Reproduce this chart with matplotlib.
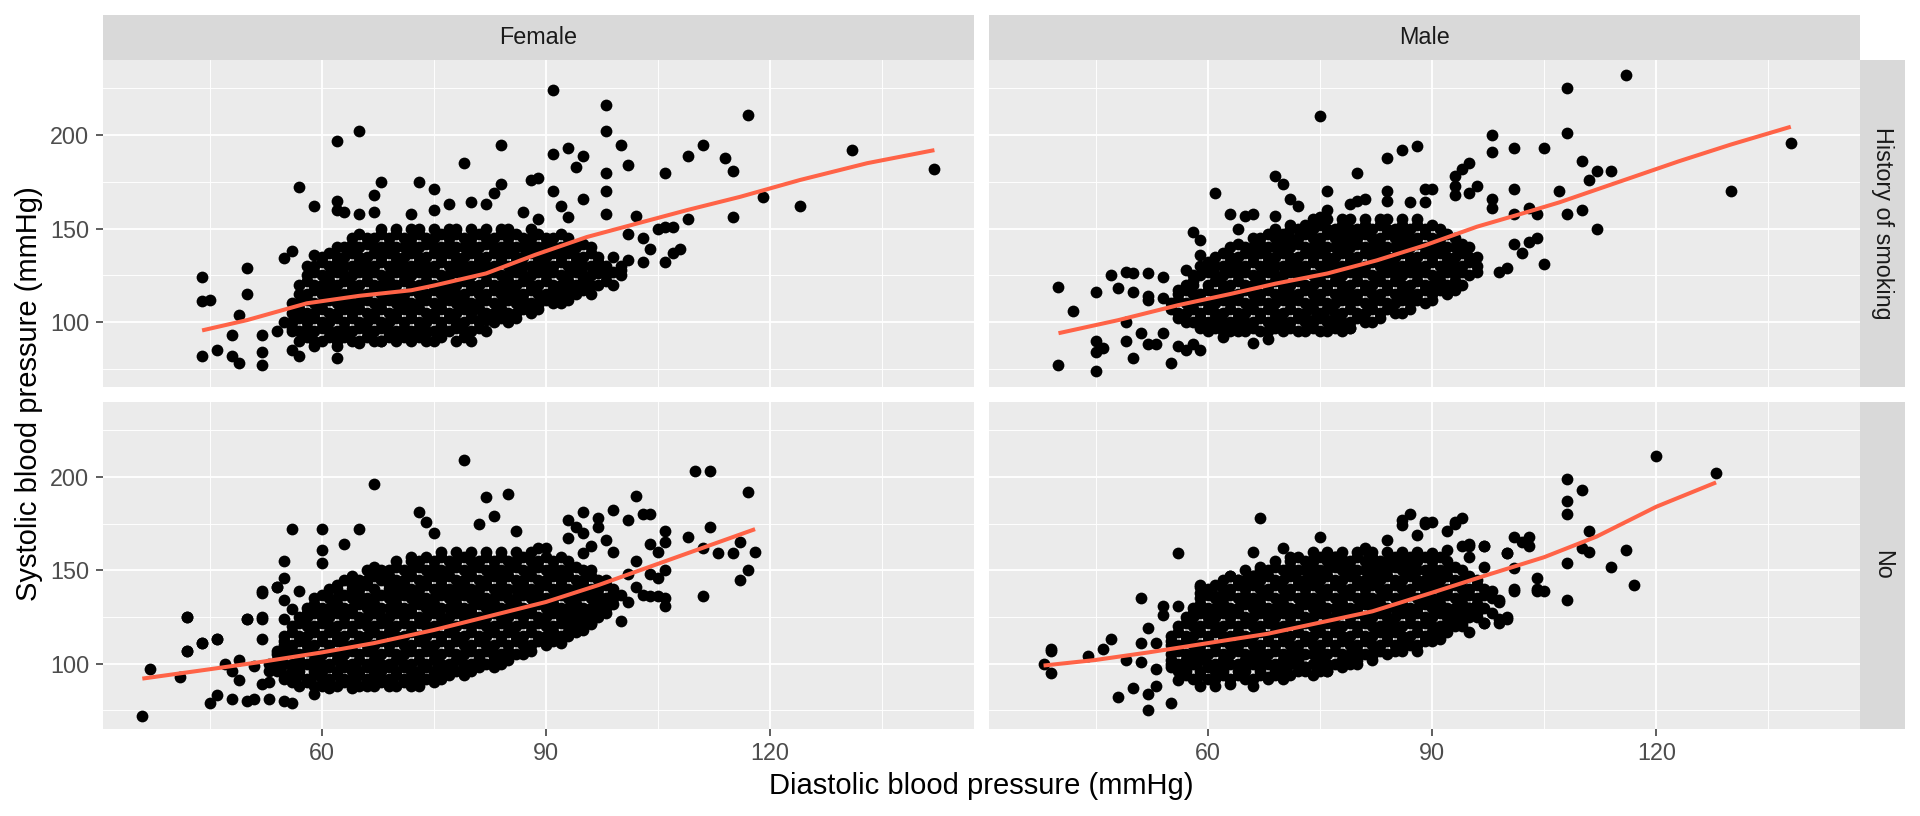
import matplotlib.pyplot as plt

plt.rcParams['font.family'] = ['Liberation Sans', 'DejaVu Sans']

# facet labels
sexes = ['Female', 'Male']
smoking = ['History of smoking', 'No']

# dense middle of each point cloud, read row by row: systolic -> diastolic values
tl_rows = {
    90: [57, 59, 60, 62, 64, 65, 67, 68, 70, 72, 74, 75, 78, 80],
    92: [58, 61, 63, 66, 69, 71, 73, 76, 79],
    95: [56, 57, 59, 61, 62, 64, 66, 67, 69, 70, 72, 74, 75, 77, 79, 80, 82],
    97: [56, 58, 60, 63, 65, 68, 71, 73, 76, 78, 81],
    100: [55, 56, 58, 60, 61, 63, 65, 66, 68, 69, 71, 73, 74, 76, 78, 79, 81, 83, 85],
    102: [57, 59, 62, 64, 67, 70, 72, 75, 77, 80, 82, 84, 86],
    105: [56, 58, 59, 61, 62, 64, 66, 67, 69, 70, 72, 74, 75, 77, 78, 80, 82, 83, 85, 86, 88],
    107: [57, 60, 63, 65, 68, 71, 73, 76, 79, 81, 84, 87, 89],
    110: [56, 57, 59, 60, 62, 64, 65, 67, 68, 70, 72, 73, 75, 76, 78, 80, 81, 83, 84, 86, 88, 89, 91, 92],
    112: [58, 61, 63, 66, 69, 71, 74, 77, 79, 82, 85, 87, 90, 93],
    115: [57, 58, 60, 62, 63, 65, 66, 68, 70, 71, 73, 74, 76, 78, 79, 81, 82, 84, 86, 87, 89, 90, 92, 94, 96],
    117: [59, 61, 64, 67, 69, 72, 75, 77, 80, 83, 85, 88, 91, 93, 95],
    120: [57, 59, 60, 62, 64, 65, 67, 68, 70, 72, 73, 75, 76, 78, 80, 81, 83, 84, 86, 88, 89, 91, 92, 94, 96, 97, 99],
    122: [58, 61, 63, 66, 69, 71, 74, 77, 79, 82, 85, 87, 90, 93, 95, 98],
    125: [58, 60, 61, 63, 64, 66, 68, 69, 71, 72, 74, 76, 77, 79, 80, 82, 84, 85, 87, 88, 90, 92, 93, 95, 96, 98, 100],
    127: [59, 62, 65, 67, 70, 73, 75, 78, 81, 83, 86, 89, 91, 94, 97, 99],
    130: [58, 59, 61, 63, 64, 66, 67, 69, 71, 72, 74, 75, 77, 79, 80, 82, 83, 85, 87, 88, 90, 91, 93, 95, 96, 98, 100],
    132: [60, 62, 65, 68, 70, 73, 76, 78, 81, 84, 86, 89, 92, 94, 97],
    135: [60, 62, 63, 65, 66, 68, 70, 71, 73, 74, 76, 78, 79, 81, 82, 84, 86, 87, 89, 90, 92, 94, 95, 97, 99],
    137: [61, 64, 67, 69, 72, 75, 77, 80, 83, 85, 88, 91, 93, 96],
    140: [62, 63, 65, 67, 68, 70, 71, 73, 75, 76, 78, 79, 81, 83, 84, 86, 87, 89, 91, 92, 94, 96],
    142: [64, 66, 69, 72, 74, 77, 80, 82, 85, 88, 90, 93, 95],
    145: [64, 66, 67, 69, 71, 72, 74, 75, 77, 79, 80, 82, 83, 85, 87, 88, 90, 91, 93],
    147: [65, 68, 70, 73, 76, 78, 81, 84, 86, 89, 92],
    150: [68, 70, 72, 73, 75, 77, 78, 80, 82, 84, 85, 88],
}
tr_rows = {
    95: [60, 62, 63, 65, 67, 68, 70, 72, 73, 75, 76, 78],
    97: [59, 61, 64, 66, 69, 71, 74, 77, 79],
    100: [57, 58, 60, 62, 63, 65, 66, 68, 70, 71, 73, 74, 76, 78, 79, 81, 82],
    102: [56, 59, 61, 64, 67, 69, 72, 75, 77, 80, 83],
    105: [56, 57, 59, 61, 62, 64, 65, 67, 69, 70, 72, 73, 75, 77, 78, 80, 81, 83, 85, 86],
    107: [55, 58, 60, 63, 66, 68, 71, 74, 76, 79, 82, 84, 87],
    110: [55, 57, 58, 60, 61, 63, 65, 66, 68, 69, 71, 73, 74, 76, 77, 79, 81, 82, 84, 85, 87, 89],
    112: [56, 59, 62, 64, 67, 70, 72, 75, 78, 80, 83, 86, 88, 90],
    115: [56, 58, 59, 61, 63, 64, 66, 67, 69, 71, 72, 74, 75, 77, 79, 80, 82, 83, 85, 87, 88, 90, 92],
    117: [57, 60, 62, 65, 68, 70, 73, 76, 78, 81, 84, 86, 89, 91, 93],
    120: [57, 58, 60, 62, 63, 65, 66, 68, 70, 71, 73, 74, 76, 78, 79, 81, 82, 84, 86, 87, 89, 90, 92, 94],
    122: [58, 61, 64, 67, 69, 72, 75, 77, 80, 83, 85, 88, 91, 93],
    125: [58, 59, 61, 62, 64, 66, 67, 69, 70, 72, 74, 75, 77, 78, 80, 82, 83, 85, 86, 88, 90, 91, 93, 95],
    127: [60, 63, 65, 68, 71, 73, 76, 79, 81, 84, 87, 89, 92, 94, 96],
    130: [59, 61, 62, 64, 65, 67, 69, 70, 72, 73, 75, 77, 78, 80, 81, 83, 85, 86, 88, 89, 91, 93, 94, 96],
    132: [60, 63, 66, 68, 71, 74, 76, 79, 82, 84, 87, 90, 92, 95],
    135: [61, 63, 64, 66, 68, 69, 71, 72, 74, 76, 77, 79, 80, 82, 84, 85, 87, 88, 90, 92, 93, 95, 96],
    137: [62, 65, 67, 70, 73, 75, 78, 81, 83, 86, 89, 91, 94],
    140: [63, 65, 66, 68, 69, 71, 73, 74, 76, 77, 79, 81, 82, 84, 85, 87, 89, 90, 92, 93, 95],
    142: [64, 67, 70, 72, 75, 78, 80, 83, 86, 88, 91, 94],
    145: [66, 67, 69, 71, 72, 74, 75, 77, 79, 80, 82, 83, 85, 87, 88, 90, 91, 93],
    147: [68, 70, 73, 76, 78, 81, 84, 86, 89, 92],
    150: [69, 71, 72, 74, 76, 77, 79, 80, 82, 84, 85, 87, 89, 91],
    152: [71, 73, 75, 78, 81, 83, 86, 88, 90],
    155: [74, 76, 78, 79, 81, 83, 84, 86, 88],
}
bl_rows = {
    88: [57, 59, 60, 62, 64, 65, 67, 69, 70, 72],
    90: [56, 58, 61, 63, 66, 68, 71, 73, 75],
    92: [55, 56, 58, 60, 61, 63, 64, 66, 68, 69, 71, 72, 74, 76],
    94: [55, 57, 59, 62, 65, 67, 70, 73, 75, 77, 79],
    96: [54, 56, 57, 59, 60, 62, 64, 65, 67, 68, 70, 72, 73, 75, 76, 78, 80],
    98: [54, 57, 59, 61, 63, 66, 69, 71, 74, 77, 79, 81, 83],
    100: [53, 55, 56, 58, 60, 61, 63, 64, 66, 68, 69, 71, 72, 74, 76, 77, 79, 80, 82, 84],
    102: [54, 57, 59, 62, 65, 67, 70, 73, 75, 78, 81, 83, 85],
    105: [54, 55, 57, 59, 60, 62, 63, 65, 67, 68, 70, 71, 73, 75, 76, 78, 79, 81, 83, 84, 86, 87],
    107: [54, 56, 58, 61, 64, 66, 69, 72, 74, 77, 80, 82, 85, 88],
    110: [55, 56, 58, 59, 61, 63, 64, 66, 67, 69, 71, 72, 74, 75, 77, 79, 80, 82, 83, 85, 87, 88, 90],
    112: [55, 57, 60, 62, 65, 68, 70, 73, 76, 78, 81, 84, 86, 89, 91],
    115: [55, 57, 58, 60, 62, 63, 65, 66, 68, 70, 71, 73, 74, 76, 78, 79, 81, 82, 84, 86, 87, 89, 90, 92, 93],
    117: [56, 59, 61, 64, 67, 69, 72, 75, 77, 80, 83, 85, 88, 91, 94],
    120: [56, 58, 59, 61, 62, 64, 66, 67, 69, 70, 72, 74, 75, 77, 78, 80, 82, 83, 85, 86, 88, 90, 91, 93, 95],
    122: [57, 60, 63, 65, 68, 71, 73, 76, 79, 81, 84, 87, 89, 92, 94, 96],
    125: [57, 58, 60, 61, 63, 65, 66, 68, 69, 71, 73, 74, 76, 77, 79, 81, 82, 84, 85, 87, 89, 90, 92, 93, 95, 97],
    127: [58, 59, 62, 64, 67, 70, 72, 75, 78, 80, 83, 86, 88, 91, 94, 96, 98],
    130: [58, 60, 61, 63, 64, 66, 68, 69, 71, 72, 74, 76, 77, 79, 80, 82, 84, 85, 87, 88, 90, 92, 93, 95, 96, 98],
    132: [59, 62, 65, 67, 70, 73, 75, 78, 81, 83, 86, 89, 91, 94, 97, 99],
    135: [59, 61, 62, 64, 66, 67, 69, 70, 72, 74, 75, 77, 78, 80, 82, 83, 85, 86, 88, 90, 91, 93, 94, 96, 98, 99],
    137: [60, 63, 65, 68, 71, 73, 76, 79, 81, 84, 87, 89, 92, 95, 97, 100],
    140: [61, 62, 64, 65, 67, 69, 70, 72, 73, 75, 77, 78, 80, 81, 83, 85, 86, 88, 89, 91, 93, 94, 96, 97, 99],
    142: [62, 64, 66, 69, 71, 74, 76, 79, 82, 84, 87, 90, 92, 95, 98],
    145: [63, 65, 66, 68, 70, 71, 73, 74, 76, 78, 79, 81, 82, 84, 86, 87, 89, 90, 92, 94, 95, 97, 98],
    147: [64, 67, 69, 72, 75, 77, 80, 83, 85, 88, 91, 93, 96],
    150: [66, 68, 69, 71, 72, 74, 76, 77, 79, 80, 82, 84, 85, 87, 88, 90, 92, 93, 95, 96],
    152: [67, 70, 73, 75, 78, 81, 83, 86, 89, 91, 94],
    155: [70, 72, 73, 75, 77, 78, 80, 81, 83, 85, 86, 88, 89, 91, 93],
    157: [72, 74, 76, 79, 82, 84, 87, 90, 92],
    160: [76, 78, 80, 82, 84, 86, 88],
}
br_rows = {
    92: [58, 60, 61, 63, 65, 66, 68, 70],
    94: [57, 59, 62, 64, 67, 69, 71, 74],
    96: [56, 57, 59, 61, 62, 64, 65, 67, 69, 70, 72, 73, 75, 76],
    98: [55, 57, 60, 62, 65, 67, 70, 73, 75, 78],
    100: [55, 56, 58, 60, 61, 63, 64, 66, 68, 69, 71, 72, 74, 76, 77, 79, 80],
    102: [55, 57, 59, 62, 65, 67, 70, 72, 75, 78, 80, 82],
    105: [55, 57, 58, 60, 62, 63, 65, 66, 68, 70, 71, 73, 74, 76, 78, 79, 81, 82, 84],
    107: [56, 59, 61, 64, 67, 69, 72, 75, 77, 80, 83, 85, 86],
    110: [55, 56, 58, 59, 61, 63, 64, 66, 67, 69, 71, 72, 74, 75, 77, 79, 80, 82, 83, 85, 87, 88],
    112: [55, 57, 60, 62, 65, 68, 70, 73, 76, 78, 81, 84, 86, 89, 90],
    115: [55, 57, 58, 60, 62, 63, 65, 66, 68, 70, 71, 73, 74, 76, 78, 79, 81, 82, 84, 86, 87, 89, 91],
    117: [56, 59, 61, 64, 67, 69, 72, 75, 77, 80, 83, 85, 88, 90, 92],
    120: [56, 58, 59, 61, 62, 64, 66, 67, 69, 70, 72, 74, 75, 77, 78, 80, 82, 83, 85, 86, 88, 90, 91, 93, 94],
    122: [57, 60, 63, 65, 68, 71, 73, 76, 79, 81, 84, 87, 89, 92, 94],
    125: [57, 58, 60, 61, 63, 65, 66, 68, 69, 71, 73, 74, 76, 77, 79, 81, 82, 84, 85, 87, 89, 90, 92, 93, 95, 96],
    127: [58, 59, 62, 64, 67, 70, 72, 75, 78, 80, 83, 86, 88, 91, 94, 96],
    130: [58, 60, 61, 63, 64, 66, 68, 69, 71, 72, 74, 76, 77, 79, 80, 82, 84, 85, 87, 88, 90, 92, 93, 95, 97],
    132: [59, 62, 65, 67, 70, 73, 75, 78, 81, 83, 86, 89, 91, 94, 96],
    135: [59, 61, 62, 64, 66, 67, 69, 70, 72, 74, 75, 77, 78, 80, 82, 83, 85, 86, 88, 90, 91, 93, 94, 96, 98],
    137: [60, 63, 65, 68, 71, 73, 76, 79, 81, 84, 87, 89, 92, 95, 97],
    140: [60, 62, 63, 65, 67, 68, 70, 71, 73, 75, 76, 78, 79, 81, 83, 84, 86, 87, 89, 91, 92, 94, 95, 97],
    142: [61, 64, 66, 69, 72, 74, 77, 80, 82, 85, 88, 90, 93, 96],
    145: [62, 64, 65, 67, 69, 70, 72, 73, 75, 77, 78, 80, 81, 83, 85, 86, 88, 89, 91, 93, 94, 96],
    147: [63, 66, 68, 71, 74, 76, 79, 82, 84, 87, 90, 92, 95],
    150: [65, 67, 68, 70, 72, 73, 75, 76, 78, 80, 81, 83, 84, 86, 88, 89, 91, 92, 94],
    152: [67, 69, 71, 74, 77, 79, 82, 85, 87, 90, 93],
    155: [69, 71, 73, 74, 76, 78, 79, 81, 83, 84, 86, 88, 90, 92],
    157: [71, 72, 75, 77, 80, 82, 85, 87, 89, 91],
    160: [74, 76, 78, 80, 82, 84, 86, 88],
}

# points outside the solid part (diastolic, systolic)
tl_extra = [
    (91, 224), (98, 216), (98, 202), (117, 211), (65, 202), (62, 197), (84, 195), (93, 193),
    (91, 190), (95, 189), (100, 195), (94, 183), (101, 184), (98, 180), (106, 180), (109, 189),
    (111, 195), (114, 188), (115, 181), (119, 167), (115, 156), (79, 185), (57, 172), (59, 162),
    (62, 165), (68, 175), (67, 168), (73, 175), (75, 171), (84, 174), (83, 169), (88, 176),
    (89, 177), (91, 170), (95, 166), (98, 170), (98, 158), (102, 157), (103, 145), (104, 139),
    (103, 132), (106, 132), (106, 151), (107, 151), (105, 150), (109, 155), (108, 139), (107, 137),
    (101, 147), (101, 133), (100, 128), (97, 126), (95, 124), (89, 109), (91, 113), (92, 117),
    (44, 124), (44, 111), (45, 112), (50, 129), (50, 115), (49, 104), (55, 134), (56, 138),
    (59, 136), (62, 160), (63, 159), (65, 158), (67, 159), (72, 158), (75, 160), (77, 163),
    (80, 164), (82, 163), (87, 159), (89, 155), (92, 162), (93, 156), (44, 82), (46, 85),
    (48, 93), (48, 82), (49, 78), (52, 84), (52, 77), (52, 93), (54, 95), (56, 85),
    (57, 82), (59, 87), (62, 81), (62, 87), (65, 89), (68, 90), (69, 93), (74, 94),
    (76, 98), (78, 98), (81, 101), (82, 101), (73, 96), (66, 96), (58, 95), (142, 182),
    (131, 192), (124, 162),
]
tr_extra = [
    (75, 210), (98, 200), (98, 191), (101, 193), (105, 193), (84, 188), (86, 192), (88, 194),
    (80, 180), (94, 182), (95, 185), (69, 178), (70, 174), (61, 169), (71, 166), (72, 162),
    (76, 170), (76, 160), (75, 156), (80, 165), (81, 166), (79, 163), (84, 170), (84, 165),
    (89, 171), (90, 171), (87, 164), (89, 164), (93, 178), (93, 173), (96, 173), (95, 169),
    (93, 168), (98, 166), (101, 171), (107, 170), (101, 158), (103, 161), (104, 158), (98, 161),
    (101, 142), (103, 143), (102, 137), (105, 131), (100, 129), (99, 127), (63, 158), (65, 157),
    (66, 158), (69, 157), (64, 150), (58, 148), (59, 144), (59, 136), (60, 130), (57, 128),
    (54, 124), (52, 126), (50, 126), (49, 127), (47, 125), (48, 118), (50, 116), (52, 114),
    (52, 112), (45, 116), (42, 106), (40, 119), (54, 113), (56, 117), (40, 77), (45, 74),
    (45, 84), (45, 90), (46, 86), (49, 90), (50, 81), (52, 88), (53, 88), (55, 78),
    (56, 87), (57, 85), (58, 88), (59, 85), (60, 96), (62, 92), (64, 95), (66, 89),
    (68, 91), (70, 97), (74, 101), (76, 101), (79, 97), (81, 101), (54, 94), (51, 94),
    (49, 100), (138, 196), (130, 170), (112, 181), (114, 181), (111, 176), (116, 232),
    (108, 225), (108, 201), (110, 186), (112, 150), (108, 158), (104, 145), (110, 160),
]
bl_extra = [
    (79, 209), (67, 196), (110, 203), (112, 203), (117, 192), (82, 189), (85, 191), (102, 190),
    (95, 181), (99, 182), (101, 177), (103, 180), (104, 180), (93, 177), (94, 173), (97, 178),
    (97, 173), (73, 181), (74, 176), (75, 170), (83, 179), (81, 175), (86, 171), (56, 172),
    (60, 172), (65, 172), (63, 164), (60, 161), (60, 154), (55, 155), (55, 146), (54, 141),
    (52, 139), (55, 134), (52, 125), (50, 124), (42, 125), (44, 111), (46, 113), (42, 107),
    (106, 171), (109, 168), (112, 173), (111, 162), (113, 159), (115, 159), (116, 165), (118, 160),
    (117, 150), (116, 145), (111, 136), (106, 131), (106, 135), (105, 136), (104, 136), (100, 123),
    (104, 164), (106, 165), (105, 160), (102, 155), (99, 160), (101, 148), (98, 166), (96, 163),
    (93, 167), (95, 159), (90, 162), (89, 162), (95, 170), (106, 150), (105, 146), (104, 148),
    (101, 133), (96, 121), (95, 118), (93, 117), (92, 111), (90, 112), (87, 111), (85, 105),
    (83, 104), (81, 102), (97, 129), (96, 125), (103, 137), (102, 141), (99, 138), (98, 134),
    (36, 72), (37, 97), (41, 93), (42, 125), (42, 107), (44, 111), (46, 113), (45, 79),
    (46, 83), (47, 100), (48, 96), (49, 102), (49, 91), (48, 81), (50, 80), (50, 124),
    (52, 124), (52, 113), (52, 138), (54, 141), (51, 81), (53, 81), (55, 80), (56, 79),
    (55, 124), (56, 129), (57, 139), (59, 84), (61, 87), (64, 87), (66, 88), (69, 91),
    (71, 91), (73, 88), (75, 95), (77, 97), (79, 99), (81, 103), (83, 104), (85, 106),
    (51, 99), (53, 96), (52, 89), (53, 90),
]
br_extra = [
    (120, 211), (128, 202), (108, 199), (110, 193), (108, 187), (108, 180), (111, 171), (110, 162),
    (111, 160), (116, 161), (114, 152), (117, 142), (108, 154), (108, 134), (104, 146), (105, 139),
    (104, 140), (101, 168), (103, 168), (102, 165), (103, 163), (100, 159), (101, 140), (101, 151),
    (99, 133), (100, 124), (99, 124), (97, 122), (95, 117), (97, 163), (97, 152), (94, 178),
    (93, 176), (92, 171), (90, 176), (89, 175), (87, 180), (88, 169), (94, 163), (95, 163),
    (92, 161), (90, 159), (95, 157), (88, 107), (91, 113), (86, 112), (98, 139), (67, 178),
    (75, 168), (56, 159), (66, 160), (70, 162), (74, 156), (86, 177), (86, 174), (89, 176),
    (93, 175), (84, 166), (81, 162), (77, 157), (78, 156), (81, 161), (95, 164), (97, 163),
    (100, 159), (104, 139), (101, 139), (99, 134), (97, 122), (99, 122), (100, 125), (98, 127),
    (95, 130), (93, 127), (91, 119), (90, 113), (84, 117), (63, 147), (64, 145), (66, 146),
    (59, 142), (59, 138), (51, 135), (54, 131), (56, 131), (54, 126), (61, 136), (52, 119),
    (47, 113), (51, 111), (53, 111), (39, 108), (44, 104), (46, 108), (38, 100), (39, 107),
    (39, 95), (49, 102), (51, 101), (48, 82), (50, 87), (52, 84), (53, 88), (52, 75),
    (55, 79), (53, 97), (56, 91), (59, 88), (61, 88), (63, 89), (66, 88), (68, 93),
    (73, 98), (76, 96), (82, 104), (59, 141), (66, 147),
]

# smooth fit lines
tl_fit_x = [44, 50, 58, 65, 72, 75, 82, 88.6, 95.5, 102, 109, 116, 124, 133, 142]
tl_fit_y = [95.5, 101, 110, 114, 117, 119.5, 126, 136, 145.5, 152.5, 160, 167, 176, 185, 192]
tr_fit_x = [40, 48, 56, 63, 69, 76, 82.6, 89, 96, 102, 107, 115, 123, 130, 138]
tr_fit_y = [94, 101, 109, 115, 120.5, 126, 133, 141, 151, 158, 164, 175, 186, 195, 204.5]
bl_fit_x = [36, 45, 52, 60, 67, 75, 82, 90, 97, 104, 111, 118]
bl_fit_y = [92, 97, 101, 106, 111, 118, 125, 133, 142, 152, 162, 172]
br_fit_x = [38, 45, 52, 60, 68, 75, 82, 90, 97, 105, 112, 120, 128]
br_fit_y = [99, 102, 106, 111, 116, 122, 128, 138, 147, 157, 168, 184, 197]

panels = [
    [(tl_rows, tl_extra, tl_fit_x, tl_fit_y), (tr_rows, tr_extra, tr_fit_x, tr_fit_y)],
    [(bl_rows, bl_extra, bl_fit_x, bl_fit_y), (br_rows, br_extra, br_fit_x, br_fit_y)],
]

fig = plt.figure(figsize=(19.2, 8.16), dpi=100)
fig.patch.set_facecolor('white')

lefts = [0.0535, 0.5151]
bottoms = [0.5257, 0.1070]
w, h = 0.4538, 0.4007

for r in range(2):
    for c in range(2):
        rows, extra, fx, fy = panels[r][c]
        xs, ys = [], []
        for sbp, dbps in rows.items():
            for d in dbps:
                xs.append(d)
                ys.append(sbp)
        for d, s in extra:
            xs.append(d)
            ys.append(s)

        ax = fig.add_axes([lefts[c], bottoms[r], w, h])
        ax.set_facecolor('#EBEBEB')
        for sp in ax.spines.values():
            sp.set_visible(False)
        ax.set_xlim(30.7, 147.3)
        ax.set_ylim(65.2, 240.2)
        ax.set_xticks([60, 90, 120])
        ax.set_xticks([45, 75, 105, 135], minor=True)
        ax.set_yticks([100, 150, 200])
        ax.set_yticks([75, 125, 175, 225], minor=True)
        ax.grid(True, which='major', color='white', linewidth=1.3)
        ax.grid(True, which='minor', color='white', linewidth=0.65)
        ax.set_axisbelow(True)
        ax.tick_params(which='minor', length=0)
        ax.tick_params(which='major', length=5, width=1.1, color='#333333',
                       labelcolor='#4D4D4D', labelsize=16.8)
        ax.tick_params(axis='x', pad=4.5)
        ax.tick_params(axis='y', pad=4.8)
        if r == 0:
            ax.tick_params(axis='x', which='major', length=0, labelbottom=False)
        if c == 1:
            ax.tick_params(axis='y', which='major', length=0, labelleft=False)

        ax.scatter(xs, ys, s=72, color='black', linewidths=0, zorder=2)
        ax.plot(fx, fy, color='#FF6347', linewidth=2.9, zorder=3,
                solid_capstyle='butt', solid_joinstyle='round')

        # strips
        if r == 0:
            st = fig.add_axes([lefts[c], 0.9265, w, 0.0551])
            st.set_facecolor('#D9D9D9')
            st.set_xticks([])
            st.set_yticks([])
            for sp in st.spines.values():
                sp.set_visible(False)
            st.text(0.5, 0.5, sexes[c], ha='center', va='center',
                    fontsize=16.8, color='#1A1A1A', transform=st.transAxes)
        if c == 1:
            st = fig.add_axes([0.96875, bottoms[r], 0.0233, h])
            st.set_facecolor('#D9D9D9')
            st.set_xticks([])
            st.set_yticks([])
            for sp in st.spines.values():
                sp.set_visible(False)
            st.text(0.5, 0.5, smoking[r], ha='center', va='center', rotation=270,
                    fontsize=16.8, color='#1A1A1A', transform=st.transAxes)

fig.text(29 / 1920, 1 - 394 / 816, 'Systolic blood pressure (mmHg)', rotation=90,
         ha='center', va='center', fontsize=21, color='black')
fig.text(981 / 1920, 1 - 786 / 816, 'Diastolic blood pressure (mmHg)',
         ha='center', va='center', fontsize=21, color='black')

fig.savefig('out.png', dpi=100, facecolor='white')
